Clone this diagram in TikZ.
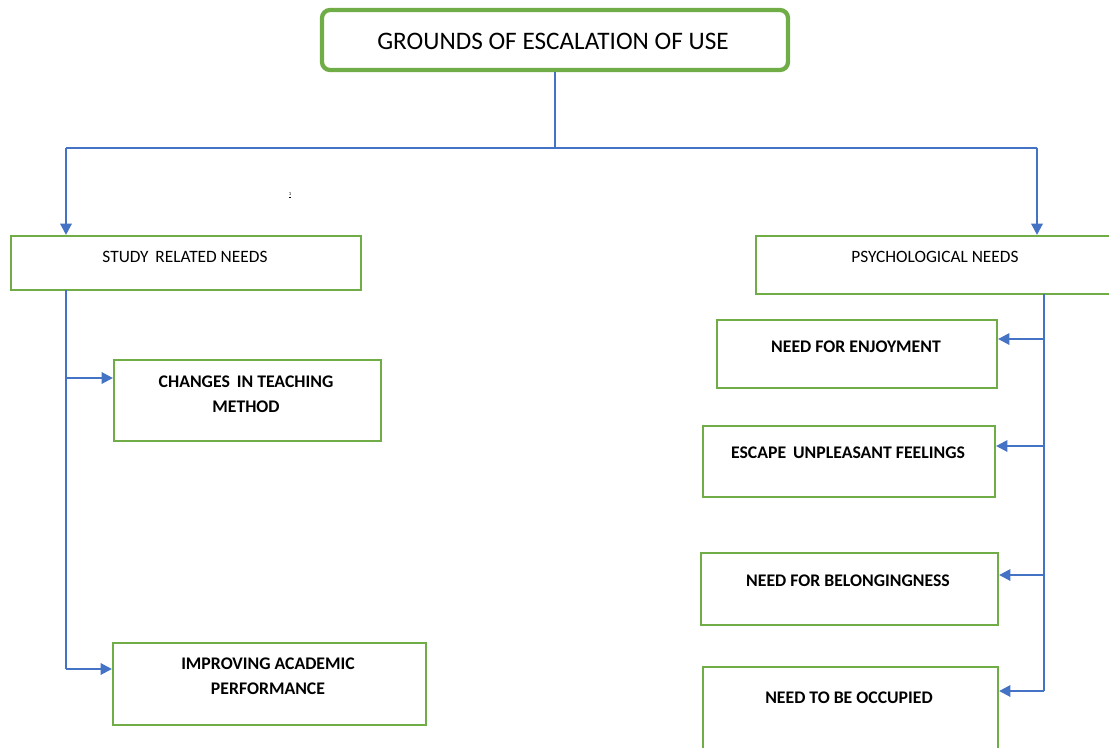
\documentclass[tikz,border=0pt]{standalone}
\usepackage{fontspec}
\setmainfont{Carlito}
\usetikzlibrary{arrows.meta,fit,calc}
\definecolor{gbox}{HTML}{70AD47}
\definecolor{bline}{HTML}{4472C4}
\tikzset{
  boxg/.style={draw=gbox,line width=1.6pt,inner sep=0pt,rectangle},
  titlebox/.style={draw=gbox,line width=3.2pt,inner sep=0pt,rounded corners=6pt},
  conn/.style={draw=bline,line width=1.7pt},
  arr/.style={conn,-{Triangle[length=8.5pt,width=8.5pt]}},
  ttl/.style={font=\fontsize{18.9}{22}\selectfont,inner sep=0pt},
  lvl/.style={font=\fontsize{13}{15}\selectfont,inner sep=0pt},
  bld/.style={font=\fontsize{13.3}{18.75}\selectfont\bfseries,inner sep=0pt,align=center},
}
\begin{document}
\begin{tikzpicture}[x=0.75pt,y=-0.75pt]
\useasboundingbox (0,0) rectangle (1109,747);
% boxes
\node[titlebox,fit={(322,10)(788,70)}] (title) {};
\node[ttl] (titletxt) at (553,41) {GROUNDS OF ESCALATION OF USE};
\node[boxg,fit={(11,236)(361,290)}] (srn) {};
\node[lvl] (srntxt) at (185,257) {STUDY\, RELATED NEEDS};
\node[boxg,fit={(756,236)(1116,294)}] (pn) {};
\node[lvl] (pntxt) at (935,257) {PSYCHOLOGICAL NEEDS};
\node[boxg,fit={(114,360)(381,441)}] (ctm) {};
\node[bld] (ctmtxt) at (246,394) {CHANGES\, IN TEACHING\\METHOD};
\node[boxg,fit={(113,643)(426,725)}] (iap) {};
\node[bld] (iaptxt) at (268,676) {IMPROVING ACADEMIC\\PERFORMANCE};
\node[boxg,fit={(717,320)(997,388)}] (nfe) {};
\node[bld] (nfetxt) at (856,347) {NEED FOR ENJOYMENT};
\node[boxg,fit={(703,426)(995,497)}] (euf) {};
\node[bld] (euftxt) at (848,453) {ESCAPE\, UNPLEASANT FEELINGS};
\node[boxg,fit={(701,553)(998,625)}] (nfb) {};
\node[bld] (nfbtxt) at (848,581) {NEED FOR BELONGINGNESS};
\node[boxg,fit={(703,667)(998,752)}] (ntbo) {};
\node[bld] (ntbotxt) at (849,698) {NEED TO BE OCCUPIED};
\node[font=\fontsize{3.5}{4}\selectfont,inner sep=0pt] (mark) at (290,195) {\underline{1}};
% junction coordinates
\coordinate (jc) at (555,148);
\coordinate (jl) at (66,148);
\coordinate (jr) at (1037,148);
\coordinate (ls) at (66,290);
\coordinate (l1) at (66,378);
\coordinate (l2) at (66,669);
\coordinate (rs) at (1044,294);
\coordinate (r1) at (1044,339);
\coordinate (r2) at (1044,446);
\coordinate (r3) at (1044,575);
\coordinate (r4) at (1044,691);
% connectors
\draw[conn] (title.south -| jc) -- (jc);
\draw[conn] (jl) -- (jr);
\draw[arr] (jl) -- (jl |- srn.north);
\draw[arr] (jr) -- (jr |- pn.north);
\draw[conn] (ls) -- (l2);
\draw[arr] (l1) -- (l1 -| ctm.west);
\draw[arr] (l2) -- (l2 -| iap.west);
\draw[conn] (rs) -- (r4);
\draw[arr] (r1) -- (r1 -| nfe.east);
\draw[arr] (r2) -- (r2 -| euf.east);
\draw[arr] (r3) -- (r3 -| nfb.east);
\draw[arr] (r4) -- (r4 -| ntbo.east);
\end{tikzpicture}
\end{document}
